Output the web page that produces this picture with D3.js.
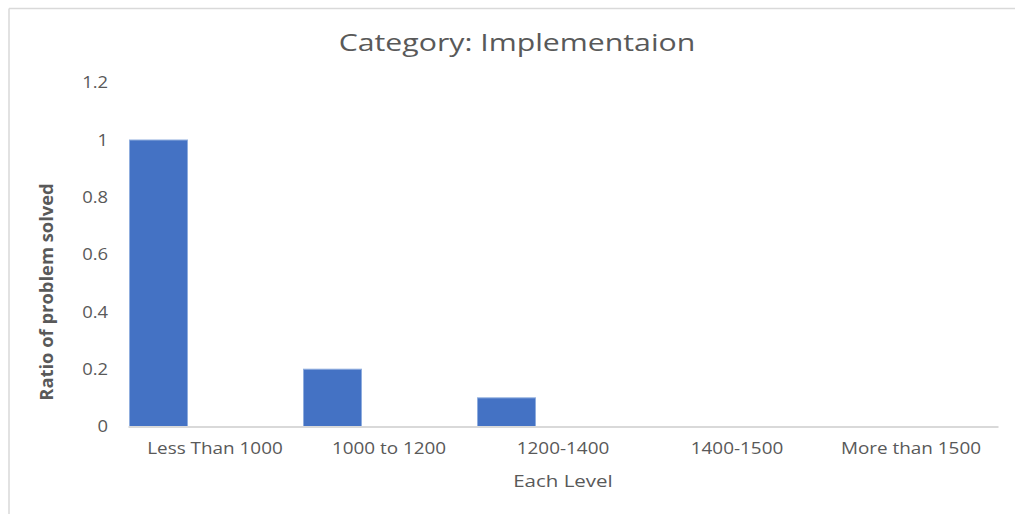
<!DOCTYPE html>
<html>
<head>
<meta charset="utf-8">
<script src="https://cdn.jsdelivr.net/npm/d3@7"></script>
<style>
  html, body { margin: 0; padding: 0; background: #fff; }
  svg { display: block; }
</style>
</head>
<body>
<svg id="chart" width="1015" height="514"></svg>
<script>
// Share of problems solved in the "Implementation" category, per rating level
const levels = ["Less Than 1000", "1000 to 1200", "1200-1400", "1400-1500", "More than 1500"];
const ratios = [1, 0.2, 0.1, 0, 0];
const yTicks = [0, 0.2, 0.4, 0.6, 0.8, 1, 1.2];

const chartTitle = "Category: Implementaion";
const xTitle = "Each Level";
const yTitle = "Ratio of problem solved";

const W = 1015, H = 514;
const margin = { top: 82.7, right: 17, bottom: 87.5, left: 128 };
const textColor = "#595959";
const font = "'Open Sans', 'Noto Sans', sans-serif";

const svg = d3.select("#chart");

// widen text glyphs horizontally by factor k (keeps anchor behaviour)
function widen(sel, k) {
  sel.each(function () {
    const len = this.getComputedTextLength();
    d3.select(this).attr("textLength", len * k).attr("lengthAdjust", "spacingAndGlyphs");
  });
}

// frame of the chart area (only top and left edges are visible)
svg.append("line").attr("x1", 9).attr("x2", W).attr("y1", 8.5).attr("y2", 8.5)
  .attr("stroke", "#d9d9d9").attr("stroke-width", 1.5);
svg.append("line").attr("x1", 9).attr("x2", 9).attr("y1", 8.5).attr("y2", H)
  .attr("stroke", "#d9d9d9").attr("stroke-width", 1.5);

const x = d3.scaleBand()
  .domain(levels)
  .range([margin.left, W - margin.right])
  .paddingInner(0).paddingOuter(0);

const y = d3.scaleLinear()
  .domain([0, 1.2])
  .range([H - margin.bottom, margin.top]);

// bars sit in the first third of each category slot
const barW = x.bandwidth() / 3;
svg.append("g")
  .selectAll("rect")
  .data(levels.map((l, i) => ({ level: l, value: ratios[i] })))
  .join("rect")
  .attr("x", d => x(d.level) + 1.5)
  .attr("width", barW)
  .attr("y", d => y(d.value))
  .attr("height", d => y(0) - y(d.value))
  .attr("fill", "#4472c4")
  .attr("stroke", d => d.value > 0 ? "#8fadde" : "none")
  .attr("stroke-width", 1);

// category axis
const xAxis = svg.append("g")
  .attr("transform", `translate(0,${y(0)})`)
  .call(d3.axisBottom(x).tickSize(0).tickPadding(16));
xAxis.select(".domain").attr("stroke", "#d9d9d9").attr("stroke-width", 2);
xAxis.selectAll("text")
  .attr("fill", textColor)
  .style("font-family", font)
  .style("font-size", "16px")
  .call(widen, 1.18);

// value axis (labels only)
const yAxis = svg.append("g")
  .attr("transform", `translate(${margin.left},0)`)
  .call(d3.axisLeft(y).tickValues(yTicks).tickFormat(d3.format("~g")).tickSize(0).tickPadding(20));
yAxis.select(".domain").remove();
yAxis.selectAll("text")
  .attr("fill", textColor)
  .style("font-family", font)
  .style("font-size", "16px")
  .call(widen, 1.15);

// titles
svg.append("text")
  .attr("x", 517).attr("y", 51)
  .attr("text-anchor", "middle")
  .attr("fill", textColor)
  .style("font-family", font)
  .style("font-size", "24px")
  .text(chartTitle)
  .call(widen, 1.26);

svg.append("text")
  .attr("x", (margin.left + W - margin.right) / 2).attr("y", 487)
  .attr("text-anchor", "middle")
  .attr("fill", textColor)
  .style("font-family", font)
  .style("font-size", "16px")
  .text(xTitle)
  .call(widen, 1.28);

svg.append("text")
  .attr("transform", `translate(53,292) rotate(-90)`)
  .attr("text-anchor", "middle")
  .attr("fill", textColor)
  .style("font-family", font)
  .style("font-size", "18px")
  .style("font-weight", "bold")
  .text(yTitle)
  .call(widen, 1.02);
</script>
</body>
</html>
